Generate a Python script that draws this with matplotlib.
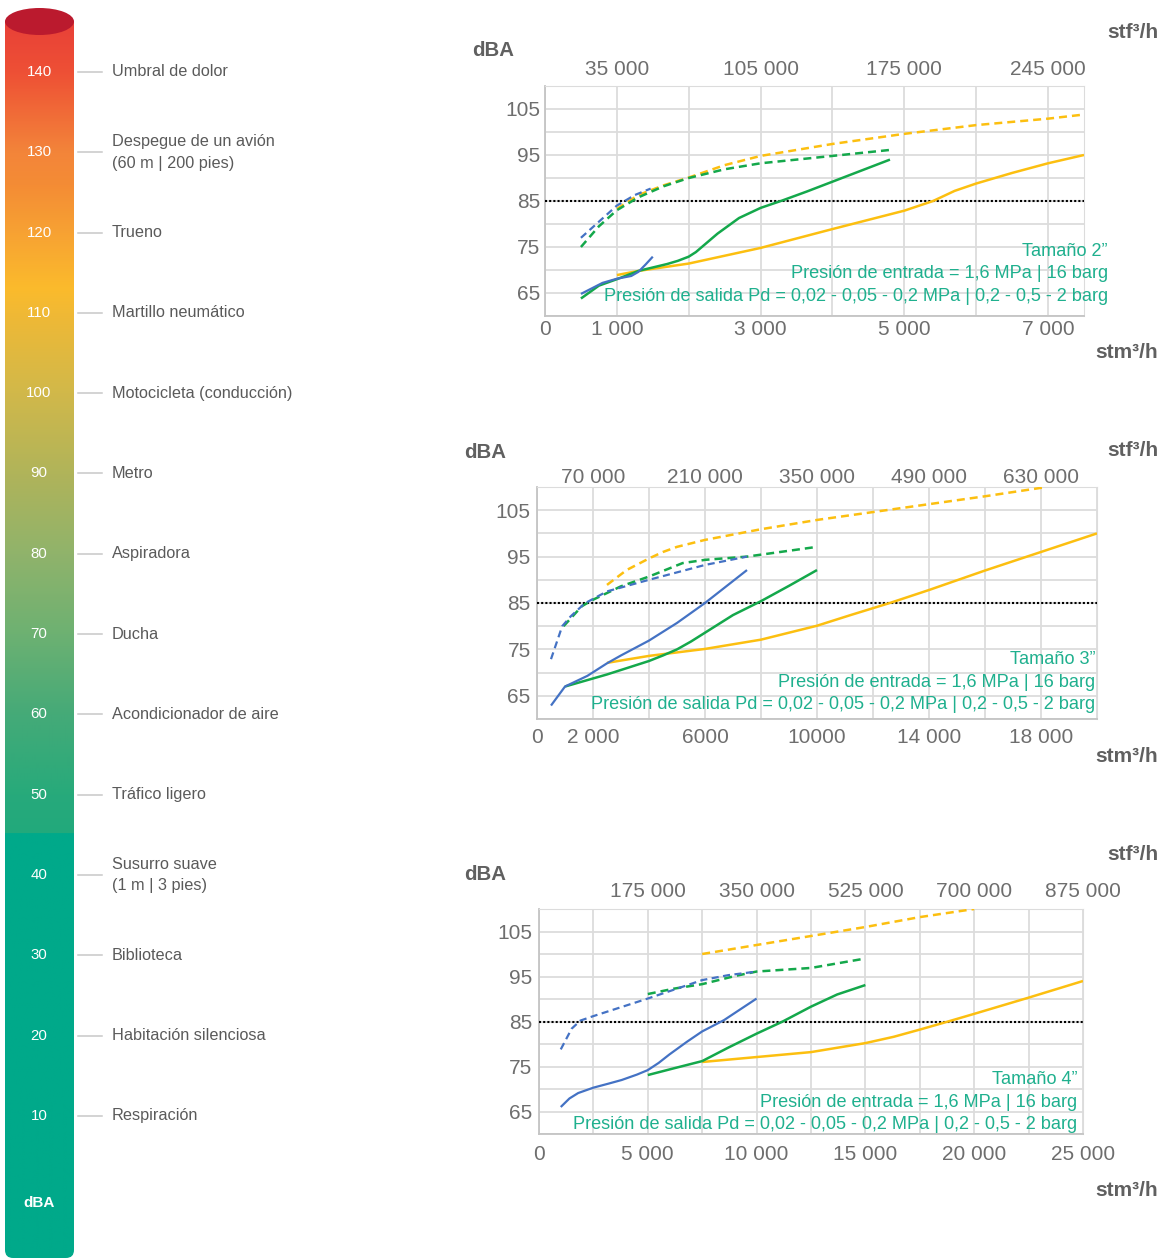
import matplotlib
matplotlib.use("Agg")
import matplotlib.pyplot as plt
import numpy as np
from matplotlib.colors import to_rgb
from matplotlib.patches import Ellipse, FancyBboxPatch, Rectangle

plt.rcParams["font.family"] = ["Liberation Sans", "DejaVu Sans"]

W, H = 1165, 1259

# ---- thermometer scale (dBA) ----
LEVELS = [140, 130, 120, 110, 100, 90, 80, 70, 60, 50, 40, 30, 20, 10]
LEVEL_LABELS = [
    "Umbral de dolor",
    "Despegue de un avión\n(60 m | 200 pies)",
    "Trueno",
    "Martillo neumático",
    "Motocicleta (conducción)",
    "Metro",
    "Aspiradora",
    "Ducha",
    "Acondicionador de aire",
    "Tráfico ligero",
    "Susurro suave\n(1 m | 3 pies)",
    "Biblioteca",
    "Habitación silenciosa",
    "Respiración",
]
GRAD_DBA = [45.2, 50, 60, 70, 80, 90, 100, 110, 113, 120, 126, 130, 140, 148]
GRAD_COLORS = ["#22a97c", "#27aa7b", "#45aa78", "#6db172", "#90b36b", "#b0b45a",
               "#d1b84a", "#f0b935", "#fbbb2c", "#f7a233", "#f48c35", "#f3853a",
               "#ee5035", "#e73c39"]
LOW_COLOR = "#00a98a"

# ---- chart 1 : size 2" ----
C1_BLUE_X = [500, 650, 800, 1000, 1200, 1300, 1400, 1500]
C1_BLUE_Y = [64.8, 66.0, 67.2, 68.1, 68.7, 69.6, 71.2, 72.9]
C1_BLUE_D_X = [500, 750, 1000, 1250, 1470]
C1_BLUE_D_Y = [77.0, 80.5, 84.0, 86.3, 87.7]
C1_GREEN_X = [500, 750, 1000, 1300, 1700, 1850, 2000, 2100, 2400, 2700, 3000, 3300,
              3650, 4000, 4800]
C1_GREEN_Y = [63.8, 66.6, 68.0, 69.8, 71.3, 72.0, 72.9, 73.9, 77.9, 81.3, 83.5, 85.1,
              87.1, 89.2, 94.0]
C1_GREEN_D_X = [500, 750, 1000, 1300, 1650, 2000, 2500, 3000, 4000, 4800]
C1_GREEN_D_Y = [75.0, 79.5, 83.0, 85.8, 88.2, 90.0, 91.9, 93.2, 94.8, 96.1]
C1_YEL_X = [1000, 1300, 2000, 3000, 4000, 5000, 5400, 5700, 6000, 6500, 7000, 7500]
C1_YEL_Y = [68.9, 69.8, 71.4, 74.8, 78.9, 82.9, 85.0, 87.2, 88.8, 91.1, 93.2, 95.0]
C1_YEL_D_X = [1000, 1300, 1650, 2000, 2500, 3000, 4000, 5000, 6000, 7000, 7500]
C1_YEL_D_Y = [83.3, 86.3, 88.4, 90.1, 92.8, 94.8, 97.4, 99.6, 101.5, 102.9, 103.8]

# ---- chart 2 : size 3" ----
C2_BLUE_X = [500, 1000, 1800, 2500, 3000, 3500, 4000, 5000, 6000, 7500]
C2_BLUE_Y = [62.9, 67.0, 69.3, 72.0, 73.7, 75.3, 76.9, 80.7, 85.0, 92.1]
C2_BLUE_D_X = [500, 900, 1200, 1700, 2500, 4000, 6000, 7500]
C2_BLUE_D_Y = [72.9, 80.0, 82.1, 84.9, 87.5, 90.0, 93.2, 95.0]
C2_GREEN_X = [1000, 2500, 4000, 4500, 5000, 5500, 6000, 6500, 7000, 7500, 8000, 9000,
              10000]
C2_GREEN_Y = [67.0, 69.6, 72.5, 73.7, 75.0, 76.7, 78.6, 80.5, 82.4, 83.9, 85.4, 88.7,
              92.1]
C2_GREEN_D_X = [950, 1600, 2000, 3000, 4000, 5200, 6000, 7500, 10000]
C2_GREEN_D_Y = [80.0, 84.3, 85.7, 88.6, 90.7, 93.6, 94.3, 95.0, 97.1]
C2_YEL_X = [2500, 4000, 6000, 8000, 10000, 11200, 12600, 14000, 16000, 18000, 20000]
C2_YEL_Y = [72.1, 73.6, 75.1, 77.1, 80.1, 82.4, 85.0, 87.8, 92.0, 96.0, 100.0]
C2_YEL_D_X = [2500, 3200, 4000, 4500, 5000, 6000, 8000, 10000, 12000, 14000, 16000, 18200]
C2_YEL_D_Y = [88.9, 92.1, 94.6, 96.0, 97.1, 98.6, 100.9, 102.9, 104.6, 106.3, 108.0, 110.0]

# ---- chart 3 : size 4" ----
C3_BLUE_X = [1000, 1400, 1800, 2500, 3200, 3800, 4500, 5000, 5500, 6000, 6800, 7500,
             8500, 10000]
C3_BLUE_Y = [66.0, 67.9, 69.1, 70.3, 71.2, 72.0, 73.2, 74.2, 75.8, 77.7, 80.5, 82.8,
             85.3, 90.1]
C3_BLUE_D_X = [1000, 1500, 1900, 2500, 5000, 7500, 8700, 10000]
C3_BLUE_D_Y = [78.8, 83.4, 85.2, 86.2, 90.1, 94.2, 95.3, 96.1]
C3_GREEN_X = [5000, 6200, 7500, 8700, 10000, 11200, 12500, 13700, 15000]
C3_GREEN_Y = [73.1, 74.6, 76.2, 79.2, 82.3, 85.0, 88.3, 91.0, 93.1]
C3_GREEN_D_X = [5000, 6200, 7500, 9000, 10000, 12500, 15000]
C3_GREEN_D_Y = [91.1, 92.3, 93.3, 95.1, 96.1, 96.9, 99.0]
C3_YEL_X = [7500, 10000, 12500, 15000, 16300, 17500, 18800, 20000, 22500, 25000]
C3_YEL_Y = [76.0, 77.1, 78.2, 80.2, 81.6, 83.2, 85.0, 86.7, 90.3, 94.0]
C3_YEL_D_X = [7500, 10000, 12500, 15000, 17500, 20000]
C3_YEL_D_Y = [100.0, 102.0, 104.0, 106.0, 108.2, 110.0]

C1_BOTTOM_TICKS = [0, 1000, 3000, 5000, 7000]
C1_BOTTOM_LABELS = ["0", "1 000", "3 000", "5 000", "7 000"]
C1_TOP_TICKS = [1000, 3000, 5000, 7000]
C1_TOP_LABELS = ["35 000", "105 000", "175 000", "245 000"]
C2_BOTTOM_TICKS = [0, 2000, 6000, 10000, 14000, 18000]
C2_BOTTOM_LABELS = ["0", "2 000", "6000", "10000", "14 000", "18 000"]
C2_TOP_TICKS = [2000, 6000, 10000, 14000, 18000]
C2_TOP_LABELS = ["70 000", "210 000", "350 000", "490 000", "630 000"]
C3_BOTTOM_TICKS = [0, 5000, 10000, 15000, 20000, 25000]
C3_BOTTOM_LABELS = ["0", "5 000", "10 000", "15 000", "20 000", "25 000"]
C3_TOP_TICKS = [5000, 10000, 15000, 20000, 25000]
C3_TOP_LABELS = ["175 000", "350 000", "525 000", "700 000", "875 000"]
Y_TICKS = [65, 75, 85, 95, 105]
LIMIT_DBA = 85

BLUE = "#4472c4"
GREEN = "#14a84b"
YELLOW = "#fcbf10"
TEAL = "#1fb08e"
TICK_GRAY = "#6e6e6e"
LABEL_GRAY = "#5a5a5a"
OUTLET = "Presión de salida Pd = 0,02 - 0,05 - 0,2 MPa | 0,2 - 0,5 - 2 barg"
INLET = "Presión de entrada = 1,6 MPa | 16 barg"


def px_rect(left, top, right, bottom):
    return [left / W, 1 - bottom / H, (right - left) / W, (bottom - top) / H]


def draw_thermometer(fig):
    px_per_db = 8.03
    top_db = 140 + 72 / px_per_db
    bot_db = 140 - (H - 72) / px_per_db
    ax = fig.add_axes(px_rect(0, 0, 300, H))
    ax.set_xlim(0, 300)
    ax.set_ylim(bot_db, top_db)
    ax.axis("off")

    cap_center = 140 + (72 - 21.5) / px_per_db
    body_bottom = 140 - (1258 - 72) / px_per_db

    vals = np.linspace(bot_db, top_db, 1200)
    stops = np.array([to_rgb(c) for c in GRAD_COLORS])
    rgb = np.stack([np.interp(vals, GRAD_DBA, stops[:, k]) for k in range(3)], axis=1)
    rgb[vals < GRAD_DBA[0]] = to_rgb(LOW_COLOR)
    img = ax.imshow(rgb[:, None, :], extent=[5, 74, bot_db, top_db], origin="lower",
                    aspect="auto", zorder=1, interpolation="bilinear")
    clip = FancyBboxPatch((5, body_bottom), 69, top_db - body_bottom,
                          boxstyle="round,pad=0,rounding_size=8",
                          mutation_aspect=1 / px_per_db, transform=ax.transData,
                          facecolor="none", edgecolor="none")
    ax.add_patch(clip)
    img.set_clip_path(clip)
    ax.add_patch(Rectangle((0, cap_center), 80, top_db - cap_center, facecolor="white",
                           edgecolor="none", zorder=2))
    ax.add_patch(Ellipse((39.5, cap_center), 69, 27 / px_per_db, facecolor="#bb1a2e",
                         edgecolor="none", zorder=3))

    for level, label in zip(LEVELS, LEVEL_LABELS):
        ax.text(39, level, str(level), color="white", fontsize=10.8, ha="center",
                va="center", zorder=4)
        ax.plot([78, 102], [level, level], color="#c8c8c8", lw=1.1, zorder=4)
        ax.text(112, level, label, color=LABEL_GRAY, fontsize=11.7, ha="left",
                va="center", linespacing=1.55, zorder=4)
    ax.text(39, 140 - (1203 - 72) / px_per_db, "dBA", color="white", fontsize=11,
            fontweight="bold", ha="center", va="center", zorder=4)


def draw_chart(fig, rect, xmax, xstep, bottom_ticks, bottom_labels, top_ticks, top_labels,
               series, pads):
    ax = fig.add_axes(rect)
    ax.set_xlim(0, xmax)
    ax.set_ylim(60, 110)
    ax.set_xticks(np.arange(0, xmax + 1, xstep), minor=True)
    ax.set_yticks(np.arange(60, 111, 5), minor=True)
    ax.set_xticks(bottom_ticks)
    ax.set_xticklabels(bottom_labels)
    ax.set_yticks(Y_TICKS)
    ax.grid(which="both", color="#dcdcdc", lw=1.3, zorder=0)
    ax.set_axisbelow(True)
    ax.tick_params(which="both", length=0, labelsize=15, labelcolor=TICK_GRAY)
    ax.tick_params(axis="x", pad=pads[0])
    ax.tick_params(axis="y", pad=pads[2])
    for side in ["top", "right"]:
        ax.spines[side].set_color("#dcdcdc")
    for side in ["left", "bottom"]:
        ax.spines[side].set_color("#c4c4c4")
        ax.spines[side].set_linewidth(1.3)

    top = ax.twiny()
    top.set_xlim(0, xmax)
    top.set_xticks(top_ticks)
    top.set_xticklabels(top_labels)
    top.tick_params(length=0, labelsize=15, labelcolor=TICK_GRAY, pad=pads[1])
    for side in top.spines.values():
        side.set_visible(False)

    ax.axhline(LIMIT_DBA, color="black", lw=1.5, linestyle=(0, (1, 1)), zorder=3)
    for xs, ys, color, dashed in series:
        ax.plot(xs, ys, color=color, lw=1.6 if color == BLUE else 1.8,
                linestyle=(0, (3.2, 2)) if dashed else "-", zorder=4,
                solid_capstyle="butt", dash_capstyle="butt", solid_joinstyle="round")
    return ax


def chart_texts(fig, size, right, ys, dba_xy, stf_y, stm_y):
    for text, y in zip([size, INLET, OUTLET], ys):
        fig.text(right / W, 1 - (y + 2.5) / H, text, color=TEAL, fontsize=13.1,
                 ha="right", va="center")
    fig.text(dba_xy[0] / W, 1 - dba_xy[1] / H, "dBA", color="#606060", fontsize=14.7,
             fontweight="bold", ha="left", va="center")
    fig.text(1158 / W, 1 - stf_y / H, "stf³/h", color="#606060", fontsize=15,
             fontweight="bold", ha="right", va="center")
    fig.text(1158 / W, 1 - stm_y / H, "stm³/h", color="#606060", fontsize=15,
             fontweight="bold", ha="right", va="center")


def main():
    fig = plt.figure(figsize=(W / 100, H / 100), dpi=100)
    draw_thermometer(fig)

    draw_chart(fig, px_rect(545, 86, 1084, 316), 7500, 1000,
               C1_BOTTOM_TICKS, C1_BOTTOM_LABELS, C1_TOP_TICKS, C1_TOP_LABELS,
               [(C1_YEL_D_X, C1_YEL_D_Y, YELLOW, True),
                (C1_YEL_X, C1_YEL_Y, YELLOW, False),
                (C1_GREEN_D_X, C1_GREEN_D_Y, GREEN, True),
                (C1_GREEN_X, C1_GREEN_Y, GREEN, False),
                (C1_BLUE_D_X, C1_BLUE_D_Y, BLUE, True),
                (C1_BLUE_X, C1_BLUE_Y, BLUE, False)],
               pads=(3, 5, 3.5))
    chart_texts(fig, "Tamaño 2”", 1108, [249, 271, 294], (472, 50), 33, 353)

    draw_chart(fig, px_rect(537, 487, 1097, 719), 20000, 2000,
               C2_BOTTOM_TICKS, C2_BOTTOM_LABELS, C2_TOP_TICKS, C2_TOP_LABELS,
               [(C2_YEL_D_X, C2_YEL_D_Y, YELLOW, True),
                (C2_YEL_X, C2_YEL_Y, YELLOW, False),
                (C2_GREEN_D_X, C2_GREEN_D_Y, GREEN, True),
                (C2_GREEN_X, C2_GREEN_Y, GREEN, False),
                (C2_BLUE_D_X, C2_BLUE_D_Y, BLUE, True),
                (C2_BLUE_X, C2_BLUE_Y, BLUE, False)],
               pads=(6.5, 0, 4.5))
    chart_texts(fig, "Tamaño 3”", 1095, [657, 680, 702], (464, 453), 451, 757)

    draw_chart(fig, px_rect(539, 909, 1083, 1134), 25000, 2500,
               C3_BOTTOM_TICKS, C3_BOTTOM_LABELS, C3_TOP_TICKS, C3_TOP_LABELS,
               [(C3_YEL_D_X, C3_YEL_D_Y, YELLOW, True),
                (C3_YEL_X, C3_YEL_Y, YELLOW, False),
                (C3_GREEN_D_X, C3_GREEN_D_Y, GREEN, True),
                (C3_GREEN_X, C3_GREEN_Y, GREEN, False),
                (C3_BLUE_D_X, C3_BLUE_D_Y, BLUE, True),
                (C3_BLUE_X, C3_BLUE_Y, BLUE, False)],
               pads=(8, 6, 5))
    chart_texts(fig, "Tamaño 4”", 1077, [1077, 1100, 1122], (464, 875), 855, 1190)

    fig.savefig("out.png", dpi=100)
    plt.close(fig)


if __name__ == "__main__":
    main()
